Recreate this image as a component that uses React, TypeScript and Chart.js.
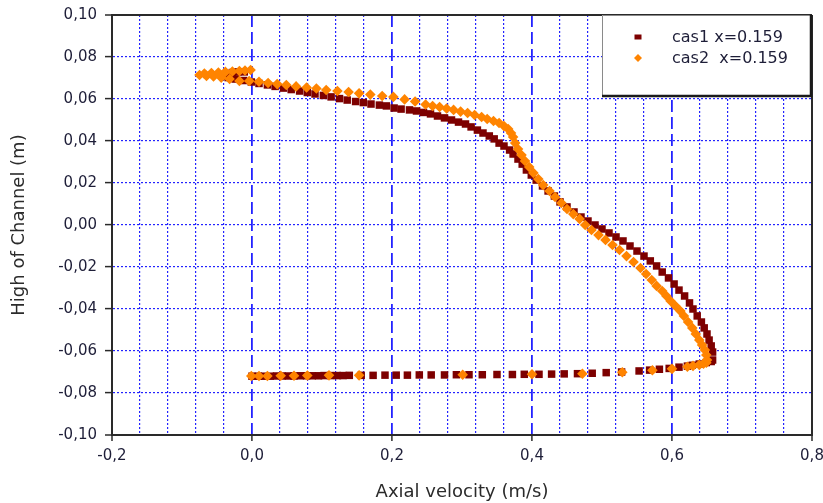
import React, { useEffect, useRef } from "react";
import { Chart, registerables } from "chart.js";

Chart.register(...registerables);

// ---------- axis settings ----------
const X_MIN = -0.2;
const X_MAX = 0.8;
const X_STEP = 0.04;
const X_LABEL_STEP = 0.2;
const Y_MIN = -0.1;
const Y_MAX = 0.1;
const Y_STEP = 0.02;

const xTitle = "Axial velocity (m/s)";
const yTitle = "High of Channel (m)";
const seriesLabels = ["cas1 x=0.159", "cas2  x=0.159"];

// ---------- data (x = axial velocity, y = height) ----------
// cas1 : lower wall part (bottom)
const cas1Lower: [number, number][] = [
  [0.000, -0.0720], [0.009, -0.0720], [0.018, -0.0720], [0.026, -0.0720],
  [0.035, -0.0719], [0.043, -0.0719], [0.052, -0.0719], [0.060, -0.0719],
  [0.069, -0.0718], [0.078, -0.0718], [0.086, -0.0718], [0.095, -0.0718],
  [0.103, -0.0717], [0.112, -0.0717], [0.122, -0.0717], [0.130, -0.0717],
  [0.139, -0.0716], [0.156, -0.0716], [0.173, -0.0716], [0.190, -0.0715],
  [0.206, -0.0715], [0.222, -0.0715], [0.239, -0.0714], [0.256, -0.0714],
  [0.275, -0.0714], [0.292, -0.0713], [0.310, -0.0713], [0.329, -0.0713],
  [0.350, -0.0712], [0.372, -0.0712], [0.389, -0.0711], [0.410, -0.0711],
  [0.428, -0.0710], [0.446, -0.0709], [0.465, -0.0708], [0.486, -0.0706],
  [0.506, -0.0703], [0.528, -0.0700], [0.553, -0.0695], [0.568, -0.0691],
  [0.582, -0.0687], [0.596, -0.0683], [0.610, -0.0677], [0.622, -0.0672],
  [0.629, -0.0668], [0.639, -0.0662], [0.649, -0.0655], [0.656, -0.0650],
];

// cas1 : main profile (right branch up to the top)
const cas1Profile: [number, number][] = [
  [0.658, -0.0643], [0.658, -0.0605], [0.656, -0.0576], [0.653, -0.0548],
  [0.650, -0.0519], [0.646, -0.0490], [0.642, -0.0462], [0.636, -0.0433],
  [0.630, -0.0400], [0.625, -0.0371], [0.618, -0.0338], [0.610, -0.0310],
  [0.603, -0.0281], [0.595, -0.0252], [0.586, -0.0224], [0.578, -0.0195],
  [0.569, -0.0171], [0.560, -0.0148], [0.550, -0.0124], [0.540, -0.0100],
  [0.530, -0.0076], [0.520, -0.0057], [0.510, -0.0038], [0.500, -0.0019],
  [0.490, 0.0000], [0.480, 0.0019], [0.470, 0.0038], [0.460, 0.0062],
  [0.450, 0.0086], [0.440, 0.0110], [0.432, 0.0138], [0.423, 0.0162],
  [0.415, 0.0186], [0.406, 0.0214], [0.399, 0.0238], [0.392, 0.0262],
  [0.386, 0.0290], [0.380, 0.0314], [0.373, 0.0338], [0.368, 0.0357],
  [0.360, 0.0376], [0.353, 0.0390], [0.346, 0.0410], [0.339, 0.0424],
  [0.330, 0.0438], [0.322, 0.0452], [0.313, 0.0467], [0.305, 0.0481],
  [0.295, 0.0490], [0.285, 0.0500], [0.275, 0.0510], [0.265, 0.0519],
  [0.255, 0.0529], [0.245, 0.0536], [0.235, 0.0543], [0.225, 0.0548],
  [0.213, 0.0552], [0.203, 0.0557], [0.192, 0.0567], [0.182, 0.0571],
  [0.170, 0.0576], [0.159, 0.0583], [0.148, 0.0588], [0.136, 0.0595],
  [0.125, 0.0602], [0.113, 0.0610], [0.102, 0.0617], [0.090, 0.0624],
  [0.079, 0.0631], [0.068, 0.0638], [0.056, 0.0645], [0.045, 0.0652],
  [0.033, 0.0660], [0.022, 0.0667], [0.010, 0.0674], [-0.001, 0.0681],
  [-0.012, 0.0688], [-0.024, 0.0695], [-0.034, 0.0702], [-0.042, 0.0710],
  [-0.044, 0.0717], [-0.037, 0.0721], [-0.028, 0.0726], [-0.020, 0.0729],
  [-0.011, 0.0729],
];

// cas2 : lower wall part (bottom)
const cas2Lower: [number, number][] = [
  [-0.001, -0.0719], [0.010, -0.0719], [0.022, -0.0719], [0.041, -0.0718],
  [0.060, -0.0718], [0.079, -0.0717], [0.110, -0.0716], [0.153, -0.0716],
  [0.301, -0.0713], [0.400, -0.0711], [0.472, -0.0708], [0.529, -0.0701],
  [0.572, -0.0692], [0.600, -0.0685], [0.622, -0.0675], [0.630, -0.0671],
  [0.639, -0.0666], [0.645, -0.0661], [0.649, -0.0656],
];

// cas2 : main profile (right branch up to the top)
const cas2Profile: [number, number][] = [
  [0.650, -0.0643], [0.649, -0.0619], [0.647, -0.0595], [0.643, -0.0571],
  [0.639, -0.0548], [0.634, -0.0519], [0.629, -0.0490], [0.623, -0.0462],
  [0.617, -0.0433], [0.612, -0.0410], [0.605, -0.0386], [0.598, -0.0362],
  [0.592, -0.0338], [0.586, -0.0314], [0.578, -0.0290], [0.571, -0.0262],
  [0.563, -0.0233], [0.555, -0.0205], [0.545, -0.0176], [0.535, -0.0148],
  [0.525, -0.0119], [0.515, -0.0095], [0.505, -0.0071], [0.495, -0.0048],
  [0.485, -0.0024], [0.476, 0.0000], [0.468, 0.0029], [0.459, 0.0052],
  [0.450, 0.0076], [0.442, 0.0105], [0.433, 0.0133], [0.425, 0.0162],
  [0.416, 0.0190], [0.409, 0.0219], [0.402, 0.0248], [0.396, 0.0276],
  [0.390, 0.0305], [0.385, 0.0333], [0.380, 0.0362], [0.376, 0.0390],
  [0.373, 0.0419], [0.370, 0.0438], [0.366, 0.0457], [0.360, 0.0471],
  [0.353, 0.0486], [0.345, 0.0495], [0.336, 0.0505], [0.328, 0.0514],
  [0.318, 0.0524], [0.308, 0.0533], [0.298, 0.0540], [0.288, 0.0548],
  [0.278, 0.0555], [0.268, 0.0562], [0.258, 0.0567], [0.248, 0.0574],
  [0.233, 0.0588], [0.218, 0.0598], [0.202, 0.0610], [0.186, 0.0614],
  [0.169, 0.0621], [0.153, 0.0627], [0.138, 0.0633], [0.122, 0.0638],
  [0.106, 0.0643], [0.092, 0.0650], [0.078, 0.0655], [0.063, 0.0660],
  [0.049, 0.0667], [0.036, 0.0671], [0.023, 0.0676], [0.010, 0.0682],
  [-0.004, 0.0686], [-0.018, 0.0686], [-0.032, 0.0695], [-0.044, 0.0702],
  [-0.055, 0.0707], [-0.065, 0.0710], [-0.075, 0.0714], [-0.068, 0.0721],
  [-0.058, 0.0724], [-0.048, 0.0726], [-0.038, 0.0729], [-0.028, 0.0731],
  [-0.018, 0.0733], [-0.010, 0.0736], [-0.002, 0.0738],
];

// ---------- styles ----------
const CAS1_COLOR = "#7d0000";
const CAS2_COLOR = "#ff8400";
const GRID_BLUE = "#2323ff";
const FRAME = "#2a2a2a";
const TEXT = "#1e1e38";
const FONT = "'DejaVu Sans', Verdana, sans-serif";

const near = (a: number, b: number) => Math.abs(a - b) < 1e-9;
const isMajorX = (v: number) =>
  Math.abs(v / X_LABEL_STEP - Math.round(v / X_LABEL_STEP)) < 1e-6;
const fmt = (v: number, d: number) =>
  (Math.abs(v) < 1e-9 ? 0 : v).toFixed(d).replace(".", ",");

const toPoints = (pairs: [number, number][]) => pairs.map(([x, y]) => ({ x, y }));

const legendPlugin = {
  id: "boxLegend",
  afterDraw(chart: any) {
    const { ctx, chartArea } = chart;
    const right = chartArea.right - 1;
    const top = chartArea.top;
    const left = right - 209;
    const bottom = top + 81;
    ctx.save();
    ctx.fillStyle = "#ffffff";
    ctx.fillRect(left, top, right - left, bottom - top);
    ctx.strokeStyle = "#8a8a8a";
    ctx.lineWidth = 1;
    ctx.beginPath();
    ctx.moveTo(left + 0.5, bottom);
    ctx.lineTo(left + 0.5, top + 0.5);
    ctx.lineTo(right, top + 0.5);
    ctx.stroke();
    ctx.strokeStyle = "#1a1a1a";
    ctx.lineWidth = 2.5;
    ctx.beginPath();
    ctx.moveTo(right, top);
    ctx.lineTo(right, bottom);
    ctx.lineTo(left, bottom);
    ctx.stroke();

    const ds = chart.data.datasets;
    const rows = [top + 22, top + 43];
    ctx.font = `16px ${FONT}`;
    ctx.textBaseline = "middle";
    ctx.textAlign = "left";
    rows.forEach((cy: number, i: number) => {
      const mx = left + 36;
      ctx.fillStyle = ds[i].backgroundColor;
      if (i === 0) {
        ctx.fillRect(mx - 3.5, cy - 2.5, 7, 5);
      } else {
        ctx.beginPath();
        ctx.moveTo(mx, cy - 4);
        ctx.lineTo(mx + 4, cy);
        ctx.lineTo(mx, cy + 4);
        ctx.lineTo(mx - 4, cy);
        ctx.closePath();
        ctx.fill();
      }
      ctx.fillStyle = TEXT;
      ctx.fillText(ds[i].label, left + 70, cy + 1);
    });
    ctx.restore();
  },
};

export default function App() {
  const canvasRef = useRef<HTMLCanvasElement | null>(null);

  useEffect(() => {
    if (!canvasRef.current) return;
    Chart.defaults.font.family = FONT;

    const chart = new Chart(canvasRef.current, {
      type: "scatter",
      data: {
        datasets: [
          {
            label: seriesLabels[0],
            data: toPoints([...cas1Lower, ...cas1Profile]),
            backgroundColor: CAS1_COLOR,
            borderColor: CAS1_COLOR,
            borderWidth: 0,
            pointStyle: "rect",
            pointRadius: 5.3,
            pointHoverRadius: 5.3,
            showLine: false,
            order: 1,
          },
          {
            label: seriesLabels[1],
            data: toPoints([...cas2Lower, ...cas2Profile]),
            backgroundColor: CAS2_COLOR,
            borderColor: CAS2_COLOR,
            borderWidth: 0,
            pointStyle: "rectRot",
            pointRadius: 5.3,
            pointHoverRadius: 5.3,
            showLine: false,
            order: 0,
          },
        ],
      },
      options: {
        responsive: false,
        animation: false,
        events: [],
        layout: { padding: { top: 15, right: 11, left: 0, bottom: 0 } },
        plugins: {
          legend: { display: false },
          tooltip: { enabled: false },
        },
        scales: {
          x: {
            type: "linear",
            min: X_MIN,
            max: X_MAX,
            ticks: {
              stepSize: X_STEP,
              autoSkip: false,
              maxRotation: 0,
              padding: 6,
              color: TEXT,
              font: { family: FONT, size: 15 },
              callback: (v: any) => (isMajorX(Number(v)) ? fmt(Number(v), 1) : ""),
            },
            grid: {
              color: (c: any) => {
                const v = c.tick ? c.tick.value : NaN;
                return near(v, X_MAX) || near(v, X_MIN) ? FRAME : GRID_BLUE;
              },
              lineWidth: (c: any) => {
                const v = c.tick ? c.tick.value : NaN;
                if (near(v, X_MAX) || near(v, X_MIN)) return 2;
                return isMajorX(v) ? 1.8 : 1.2;
              },
              tickColor: (c: any) =>
                c.tick && isMajorX(c.tick.value) ? FRAME : "rgba(0,0,0,0)",
              tickWidth: 1.5,
              tickLength: 6,
            },
            border: {
              display: true,
              color: FRAME,
              width: 2,
              dash: (c: any) => {
                if (!c.tick) return [];
                const v = c.tick.value;
                if (near(v, X_MAX) || near(v, X_MIN)) return [];
                return isMajorX(v) ? [12, 5] : [2, 2];
              },
            },
            title: {
              display: true,
              text: xTitle,
              color: "#2b2b2b",
              font: { family: FONT, size: 18 },
              padding: { top: 0, bottom: 0 },
            },
            afterFit: (s: any) => {
              s.height = 68;
              s.paddingLeft = 0;
              s.paddingRight = 0;
            },
          },
          y: {
            type: "linear",
            min: Y_MIN,
            max: Y_MAX,
            ticks: {
              stepSize: Y_STEP,
              autoSkip: false,
              padding: 8,
              color: TEXT,
              font: { family: FONT, size: 15 },
              callback: (v: any) => fmt(Number(v), 2),
            },
            grid: {
              color: (c: any) => {
                const v = c.tick ? c.tick.value : NaN;
                return near(v, Y_MAX) || near(v, Y_MIN) ? FRAME : GRID_BLUE;
              },
              lineWidth: (c: any) => {
                const v = c.tick ? c.tick.value : NaN;
                return near(v, Y_MAX) || near(v, Y_MIN) ? 2 : 1.2;
              },
              tickColor: FRAME,
              tickWidth: 1.5,
              tickLength: 7,
            },
            border: {
              display: true,
              color: FRAME,
              width: 2,
              dash: (c: any) => {
                if (!c.tick) return [];
                const v = c.tick.value;
                if (near(v, Y_MAX) || near(v, Y_MIN)) return [];
                return [2, 2];
              },
            },
            title: {
              display: true,
              text: yTitle,
              color: "#2b2b2b",
              font: { family: FONT, size: 18 },
              padding: { top: 9, bottom: 0 },
            },
            afterFit: (s: any) => {
              s.width = 112;
              s.paddingTop = 0;
              s.paddingBottom = 0;
            },
          },
        },
      },
      plugins: [legendPlugin],
    } as any);

    return () => chart.destroy();
  }, []);

  return (
    <div
      style={{
        position: "absolute",
        left: 0,
        top: 0,
        width: 823,
        height: 503,
        background: "#ffffff",
      }}
    >
      <canvas ref={canvasRef} width={823} height={503} style={{ display: "block" }} />
    </div>
  );
}
